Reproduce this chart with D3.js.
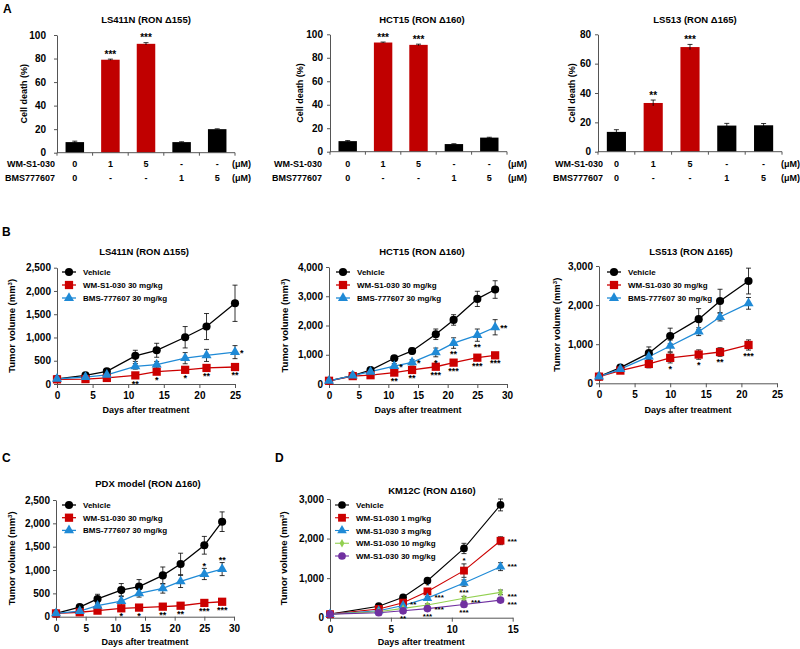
<!DOCTYPE html>
<html><head><meta charset="utf-8">
<script src="https://cdn.jsdelivr.net/npm/d3@7"></script>
<style>
body{margin:0;background:#fff}
text{font-family:"Liberation Sans",Arial,sans-serif;font-weight:bold;fill:#000}
</style>
</head><body>
<svg id="c" width="800" height="649"></svg>
<script>
// ---------------- DATA ----------------
// Panel A (cell death, %)
const wmRowLabels = ["0", "1", "5", "-", "-"];
const bmsRowLabels = ["0", "-", "-", "1", "5"];
const barGroups = ["ctrl", "wm", "wm", "bms", "bms"];
const ls411nCellDeath = [9, 79, 92.5, 9, 20];
const ls411nCellDeathErr = [0.8, 0.5, 1.0, 0.3, 0.3];
const ls411nCellDeathSig = ["", "***", "***", "", ""];
const hct15CellDeath = [9, 93, 91, 6.5, 12];
const hct15CellDeathErr = [0.5, 0.4, 0.6, 0.3, 0.3];
const hct15CellDeathSig = ["", "***", "***", "", ""];
const ls513CellDeath = [13.5, 33.2, 71.3, 17.8, 18];
const ls513CellDeathErr = [1.5, 2.0, 1.8, 1.5, 1.2];
const ls513CellDeathSig = ["", "**", "***", "", ""];

// Panel B1 LS411N
const ls411nDays = [0, 4, 7, 11, 14, 18, 21, 25];
const ls411nVehicle = [110, 185, 270, 605, 725, 1005, 1235, 1735];
const ls411nVehicleErr = [20, 30, 40, 120, 150, 230, 280, 390];
const ls411nWM = [100, 105, 130, 185, 265, 305, 345, 365];
const ls411nWMErr = [15, 20, 20, 30, 40, 40, 40, 40];
const ls411nBMS = [110, 150, 195, 380, 415, 555, 615, 685];
const ls411nBMSErr = [20, 25, 40, 60, 70, 120, 130, 140];
const ls411nWMSigBelow = ["", "", "", "**", "*", "*", "**", "**"];
const ls411nBMSSigRight = ["", "", "", "", "", "", "", "*"];

// Panel B2 HCT15
const hct15Days = [0, 4, 7, 11, 14, 18, 21, 25, 28];
const hct15Vehicle = [110, 290, 475, 880, 1130, 1700, 2190, 2910, 3230];
const hct15VehicleErr = [20, 30, 40, 60, 100, 180, 180, 260, 300];
const hct15WM = [110, 270, 300, 390, 480, 590, 730, 900, 980];
const hct15WMErr = [15, 30, 30, 50, 50, 60, 60, 60, 60];
const hct15BMS = [110, 290, 420, 615, 740, 1080, 1400, 1670, 1940];
const hct15BMSErr = [15, 30, 40, 80, 90, 150, 180, 210, 260];
const hct15WMSigBelow = ["", "", "", "**", "**", "***", "***", "***", "***"];
const hct15BMSSigRight = ["", "", "", "*", "*", "", "", "", "**"];
const hct15BMSSigBelow = ["", "", "", "", "", "*", "**", "**", ""];

// Panel B3 LS513
const ls513Days = [0, 3, 7, 10, 14, 17, 21];
const ls513Vehicle = [170, 400, 770, 1210, 1640, 2105, 2615];
const ls513VehicleErr = [30, 70, 160, 200, 270, 300, 330];
const ls513WM = [170, 325, 495, 650, 735, 800, 980];
const ls513WMErr = [30, 50, 100, 130, 120, 110, 130];
const ls513BMS = [170, 365, 680, 955, 1320, 1695, 2045];
const ls513BMSErr = [30, 60, 110, 150, 100, 100, 150];
const ls513WMSigBelow = ["", "", "", "*", "*", "**", "***"];

// Panel C PDX
const pdxDays = [0, 4, 7, 11, 14, 18, 21, 25, 28];
const pdxVehicle = [70, 205, 380, 570, 645, 885, 1130, 1530, 2035];
const pdxVehicleErr = [30, 40, 100, 140, 150, 180, 230, 190, 210];
const pdxWM = [70, 95, 130, 180, 195, 215, 235, 295, 320];
const pdxWMErr = [15, 20, 30, 40, 40, 40, 40, 40, 40];
const pdxBMS = [70, 120, 235, 335, 500, 605, 755, 915, 1020];
const pdxBMSErr = [20, 30, 60, 110, 80, 100, 130, 120, 140];
const pdxWMSigBelow = ["", "", "", "*", "*", "**", "**", "***", "***"];
const pdxBMSSigAbove = ["", "", "", "", "", "", "", "*", "**"];

// Panel D KM12C
const km12cDays = [0, 4, 6, 8, 11, 14];
const km12cVehicle = [90, 290, 515, 935, 1750, 2850];
const km12cVehicleErr = [20, 30, 40, 60, 130, 150];
const km12cWM1 = [90, 220, 380, 665, 1190, 1945];
const km12cWM1Err = [20, 25, 40, 50, 170, 100];
const km12cWM3 = [90, 175, 310, 495, 875, 1290];
const km12cWM3Err = [15, 20, 30, 40, 80, 100];
const km12cWM10 = [90, 150, 235, 320, 490, 640];
const km12cWM10Err = [15, 15, 20, 30, 50, 60];
const km12cWM30 = [90, 125, 175, 230, 335, 445];
const km12cWM30Err = [15, 15, 20, 20, 30, 40];
const km12cWM1SigRight = ["", "", "", "", "", "***"];
const km12cWM1SigAbove = ["", "", "*", "*", "*", ""];
const km12cWM3SigRight = ["", "", "**", "***", "", "***"];
const km12cWM3SigBelow = ["", "", "", "", "***", ""];
const km12cWM10SigRight = ["", "", "", "***", "***", "***"];
const km12cWM30SigRight = ["", "", "", "", "", "***"];
const km12cWM30SigBelow = ["", "", "**", "***", "***", ""];

// ---------------- STYLES ----------------
const RED = "#cc0000", BLUE = "#1f8ad6", GREEN = "#92d050", PURPLE = "#7030a0";
const AX = "#555";
const groupColor = {ctrl: "#000", wm: "#c00000", bms: "#000"};
const svg = d3.select("#c");

function letter(t, x, y) {
  svg.append("text").attr("x", x).attr("y", y).attr("font-size", 12).text(t);
}
function styleAxis(g, fs) {
  g.select(".domain").attr("stroke", AX).attr("stroke-width", 1);
  g.selectAll(".tick line").attr("stroke", AX);
  g.selectAll(".tick text").attr("font-size", fs).attr("font-family", "Liberation Sans, Arial, sans-serif").attr("font-weight", "bold").attr("fill", "#000");
}
function starText(x, y, t, anchor, fs) {
  svg.append("text").attr("x", x).attr("y", y + 0.57 * fs).attr("text-anchor", anchor)
    .attr("font-size", fs).text(t);
}

// ---------------- BAR PANELS ----------------
function barPanel(c) {
  const n = c.values.length;
  const x = d3.scaleBand().domain(d3.range(n)).range([c.x0, c.x1]).paddingInner(0.48).paddingOuter(0.24);
  const y = d3.scaleLinear().domain([0, c.yMax]).range([c.yBottom, c.yTop]);
  const step = x.step();
  const ga = svg.append("g").attr("transform", `translate(${c.x0},0)`)
    .call(d3.axisLeft(y).tickValues(d3.range(0, c.yMax + 1, 20)).tickSize(3).tickPadding(c.tickPad).tickSizeOuter(0));
  styleAxis(ga, 10);
  svg.selectAll(null).data(c.values).enter().append("rect")
    .attr("x", (d, i) => x(i)).attr("width", x.bandwidth())
    .attr("y", d => y(d)).attr("height", d => y(0) - y(d))
    .attr("fill", (d, i) => groupColor[barGroups[i]]);
  c.values.forEach((v, i) => {
    const cx = x(i) + x.bandwidth() / 2, e = c.err[i];
    const g = svg.append("g").attr("stroke", "#000").attr("stroke-width", 0.8);
    g.append("line").attr("x1", cx).attr("x2", cx).attr("y1", y(v - e)).attr("y2", y(v + e));
    g.append("line").attr("x1", cx - 2.5).attr("x2", cx + 2.5).attr("y1", y(v + e)).attr("y2", y(v + e));
    if (c.sig[i]) starText(cx, y(v + e) - 7, c.sig[i], "middle", 10);
  });
  svg.append("line").attr("x1", c.x0).attr("x2", c.x1).attr("y1", y(0)).attr("y2", y(0)).attr("stroke", AX);
  d3.range(n + 1).forEach(i => {
    const bx = c.x0 + i * step;
    svg.append("line").attr("x1", bx).attr("x2", bx).attr("y1", y(0)).attr("y2", y(0) + 3).attr("stroke", AX);
  });
  const rows = [{name: "WM-S1-030", labels: wmRowLabels, y: 167}, {name: "BMS777607", labels: bmsRowLabels, y: 181}];
  rows.forEach(r => {
    svg.append("text").attr("x", c.rowLabelX).attr("y", r.y).attr("text-anchor", "end").attr("font-size", 9).text(r.name);
    r.labels.forEach((l, i) => {
      svg.append("text").attr("x", x(i) + x.bandwidth() / 2).attr("y", r.y).attr("text-anchor", "middle").attr("font-size", 9).text(l);
    });
    svg.append("text").attr("x", c.unitX).attr("y", r.y).attr("font-size", 9).text("(\u03bcM)");
  });
  svg.append("text").attr("x", c.titleX).attr("y", 23).attr("text-anchor", "middle").attr("font-size", 9.5).text(c.title);
  svg.append("text").attr("transform", `translate(${c.yLabelX},${(c.yTop + c.yBottom) / 2}) rotate(-90)`)
    .attr("text-anchor", "middle").attr("font-size", 9).text("Cell death (%)");
}

// ---------------- LINE PANELS ----------------
function markerPath(shape, s) {
  const types = {circle: d3.symbolCircle, square: d3.symbolSquare, triangle: d3.symbolTriangle, diamond: d3.symbolDiamond};
  const sizes = {circle: 52 * s, square: 68 * s, triangle: 44 * s, diamond: 22 * s};
  return d3.symbol().type(types[shape]).size(sizes[shape])();
}

function linePanel(c) {
  const x = d3.scaleLinear().domain([0, c.xMax]).range([c.x0, c.x1]);
  const y = d3.scaleLinear().domain([0, c.yMax]).range([c.yBottom, c.yTop]);
  const gx = svg.append("g").attr("transform", `translate(0,${c.yBottom})`)
    .call(d3.axisBottom(x).tickValues(d3.range(0, c.xMax + 1, 5)).tickSize(4).tickPadding(4).tickSizeOuter(0));
  styleAxis(gx, 10);
  const gy = svg.append("g").attr("transform", `translate(${c.x0},0)`)
    .call(d3.axisLeft(y).tickValues(d3.range(0, c.yMax + 1, c.yStep)).tickSize(3).tickPadding(3).tickSizeOuter(0).tickFormat(d3.format(",")));
  styleAxis(gy, 10);

  const line = d3.line().x((d, i) => x(c.days[i])).y(d => y(d));
  c.series.forEach(s => {
    svg.append("path").datum(s.values).attr("d", line).attr("fill", "none").attr("stroke", s.color).attr("stroke-width", c.lw);
  });
  c.series.forEach(s => {
    const g = svg.append("g").attr("stroke", "#000").attr("stroke-width", 0.8);
    s.values.forEach((v, i) => {
      const cx = x(c.days[i]), e = s.err[i];
      if (y(v - e) - y(v + e) < 1) return;
      g.append("line").attr("x1", cx).attr("x2", cx).attr("y1", y(Math.max(0, v - e))).attr("y2", y(v + e));
      g.append("line").attr("x1", cx - 2.5).attr("x2", cx + 2.5).attr("y1", y(v + e)).attr("y2", y(v + e));
      g.append("line").attr("x1", cx - 2.5).attr("x2", cx + 2.5).attr("y1", y(v - e)).attr("y2", y(v - e));
    });
  });
  c.series.forEach(s => {
    svg.selectAll(null).data(s.values).enter().append("path")
      .attr("d", markerPath(s.shape, c.ms))
      .attr("transform", (d, i) => `translate(${x(c.days[i])},${y(d)})`)
      .attr("fill", s.color);
  });
  c.series.forEach(s => {
    const rdy = s.rightDy === undefined ? -1 : s.rightDy;
    s.values.forEach((v, i) => {
      const cx = x(c.days[i]), cy = y(v);
      const ePx = y(0) - y(s.err[i]);
      if (s.below && s.below[i]) starText(cx, cy + Math.max(6, ePx + 4), s.below[i], "middle", c.sfs);
      if (s.above && s.above[i]) starText(cx, cy - Math.max(8, ePx + 5), s.above[i], "middle", c.sfs);
      if (s.right && s.right[i]) starText(cx + c.rightOff, cy + rdy, s.right[i], "start", c.sfs);
    });
  });
  c.series.forEach((s, k) => {
    const ly = c.legY + k * c.legDy;
    svg.append("line").attr("x1", c.legX - 7).attr("x2", c.legX + 7).attr("y1", ly).attr("y2", ly).attr("stroke", s.color).attr("stroke-width", c.lw);
    svg.append("path").attr("d", markerPath(s.shape, c.ms)).attr("transform", `translate(${c.legX},${ly})`).attr("fill", s.color);
    svg.append("text").attr("x", c.legX + 14).attr("y", ly + 3).attr("font-size", 8).text(s.name);
  });
  svg.append("text").attr("x", c.titleX).attr("y", c.titleY).attr("text-anchor", "middle").attr("font-size", 9.5).text(c.title);
  svg.append("text").attr("x", (c.x0 + c.x1) / 2).attr("y", c.xLabelY).attr("text-anchor", "middle").attr("font-size", 9).text("Days after treatment");
  const yl = svg.append("text").attr("transform", `translate(${c.yLabelX},${(c.yTop + c.yBottom) / 2}) rotate(-90)`)
    .attr("text-anchor", "middle").attr("font-size", 9.5);
  yl.append("tspan").text("Tumor volume (mm");
  yl.append("tspan").attr("font-size", 6).attr("dy", -3.5).text("3");
  yl.append("tspan").attr("dy", 3.5).text(")");
}

// ---------------- DRAW ----------------
letter("A", 3, 13);
barPanel({values: ls411nCellDeath, err: ls411nCellDeathErr, sig: ls411nCellDeathSig, x0: 57, x1: 235, yTop: 35, yBottom: 152.7, yMax: 100,
  tickPad: 8, rowLabelX: 55, unitX: 232, title: "LS411N (RON \u0394155)", titleX: 146, yLabelX: 27});
barPanel({values: hct15CellDeath, err: hct15CellDeathErr, sig: hct15CellDeathSig, x0: 330, x1: 507, yTop: 34.3, yBottom: 151.7, yMax: 100,
  tickPad: 4, rowLabelX: 322, unitX: 508, title: "HCT15 (RON \u0394160)", titleX: 422, yLabelX: 303});
barPanel({values: ls513CellDeath, err: ls513CellDeathErr, sig: ls513CellDeathSig, x0: 598, x1: 782, yTop: 34.3, yBottom: 151.7, yMax: 80,
  tickPad: 4, rowLabelX: 603, unitX: 781, title: "LS513 (RON \u0394165)", titleX: 695, yLabelX: 575});

letter("B", 2, 236);
const stdSeries = (veh, vehE, wm, wmE, bms, bmsE) => [
  {name: "Vehicle", values: veh, err: vehE, color: "#000", shape: "circle"},
  {name: "WM-S1-030 30 mg/kg", values: wm, err: wmE, color: RED, shape: "square"},
  {name: "BMS-777607 30 mg/kg", values: bms, err: bmsE, color: BLUE, shape: "triangle"}
];
let s1 = stdSeries(ls411nVehicle, ls411nVehicleErr, ls411nWM, ls411nWMErr, ls411nBMS, ls411nBMSErr);
s1[1].below = ls411nWMSigBelow; s1[2].right = ls411nBMSSigRight;
linePanel({days: ls411nDays, series: s1, x0: 57, x1: 235, xMax: 25, yTop: 267.7, yBottom: 384, yMax: 2500, yStep: 500,
  lw: 1.3, ms: 1, sfs: 9, rightOff: 5, legX: 69, legY: 272, legDy: 13, title: "LS411N (RON \u0394155)", titleX: 144, titleY: 255,
  xLabelY: 413, yLabelX: 15});

let s2 = stdSeries(hct15Vehicle, hct15VehicleErr, hct15WM, hct15WMErr, hct15BMS, hct15BMSErr);
s2[1].below = hct15WMSigBelow; s2[2].right = hct15BMSSigRight; s2[2].below = hct15BMSSigBelow;
linePanel({days: hct15Days, series: s2, x0: 329, x1: 507, xMax: 30, yTop: 267, yBottom: 384, yMax: 4000, yStep: 1000,
  lw: 1.3, ms: 1, sfs: 9, rightOff: 5, legX: 343, legY: 272, legDy: 13, title: "HCT15 (RON \u0394160)", titleX: 422, titleY: 255,
  xLabelY: 413, yLabelX: 288});

let s3 = stdSeries(ls513Vehicle, ls513VehicleErr, ls513WM, ls513WMErr, ls513BMS, ls513BMSErr);
s3[1].below = ls513WMSigBelow;
linePanel({days: ls513Days, series: s3, x0: 599, x1: 777, xMax: 25, yTop: 266, yBottom: 383.3, yMax: 3000, yStep: 1000,
  lw: 1.3, ms: 1, sfs: 9, rightOff: 5, legX: 614, legY: 272, legDy: 13, title: "LS513 (RON \u0394165)", titleX: 691, titleY: 255,
  xLabelY: 413, yLabelX: 560});

letter("C", 2, 462);
let s4 = stdSeries(pdxVehicle, pdxVehicleErr, pdxWM, pdxWMErr, pdxBMS, pdxBMSErr);
s4[1].below = pdxWMSigBelow; s4[2].above = pdxBMSSigAbove;
linePanel({days: pdxDays, series: s4, x0: 56, x1: 234, xMax: 30, yTop: 500, yBottom: 616.7, yMax: 2500, yStep: 500,
  lw: 1.3, ms: 1, sfs: 9, rightOff: 5, legX: 69, legY: 505, legDy: 12.7, title: "PDX model (RON \u0394160)", titleX: 148, titleY: 487,
  xLabelY: 645, yLabelX: 15});

letter("D", 275, 462);
const s5 = [
  {name: "Vehicle", values: km12cVehicle, err: km12cVehicleErr, color: "#000", shape: "circle"},
  {name: "WM-S1-030 1 mg/kg", values: km12cWM1, err: km12cWM1Err, color: RED, shape: "square", right: km12cWM1SigRight, above: km12cWM1SigAbove},
  {name: "WM-S1-030 3 mg/kg", values: km12cWM3, err: km12cWM3Err, color: BLUE, shape: "triangle", right: km12cWM3SigRight, below: km12cWM3SigBelow, rightDy: -2.5},
  {name: "WM-S1-030 10 mg/kg", values: km12cWM10, err: km12cWM10Err, color: GREEN, shape: "diamond", right: km12cWM10SigRight, rightDy: 2},
  {name: "WM-S1-030 30 mg/kg", values: km12cWM30, err: km12cWM30Err, color: PURPLE, shape: "circle", right: km12cWM30SigRight, below: km12cWM30SigBelow, rightDy: 2.5}
];
linePanel({days: km12cDays, series: s5, x0: 330, x1: 512.7, xMax: 15, yTop: 499, yBottom: 617.7, yMax: 3000, yStep: 1000,
  lw: 1.1, ms: 0.9, sfs: 8, rightOff: 7, legX: 342, legY: 505, legDy: 12.75, title: "KM12C (RON \u0394160)", titleX: 432, titleY: 494,
  xLabelY: 645, yLabelX: 287});
</script>
</body></html>
